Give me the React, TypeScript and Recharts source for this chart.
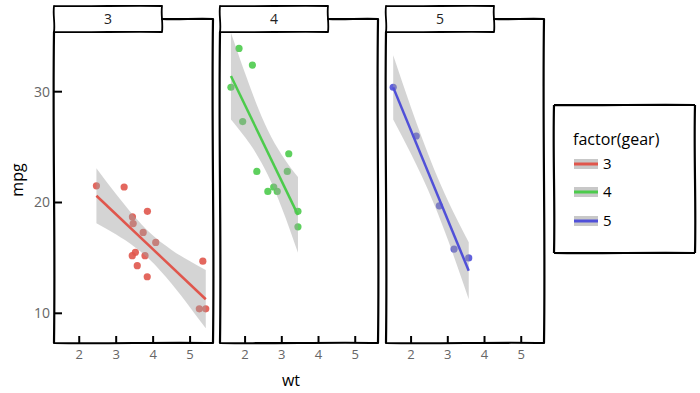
import React from 'react';
import { ComposedChart, XAxis, YAxis, Scatter, Line, Area } from 'recharts';

// ---- data ----
const gearLevels = ['3', '4', '5'];
const gearColors = ['#E0564C', '#4CCB4C', '#5050D8'];

const gear3Wt = [2.465, 3.215, 3.44, 3.46, 3.57, 3.73, 3.78, 3.84, 3.845, 4.07, 5.25, 5.345, 5.424, 3.52, 3.435];
const gear3Mpg = [21.5, 21.4, 18.7, 18.1, 14.3, 17.3, 15.2, 13.3, 19.2, 16.4, 10.4, 14.7, 10.4, 15.5, 15.2];
const gear4Wt = [1.615, 1.835, 1.935, 2.2, 2.32, 2.62, 2.78, 2.875, 3.15, 3.19, 3.44, 3.44];
const gear4Mpg = [30.4, 33.9, 27.3, 32.4, 22.8, 21.0, 21.4, 21.0, 22.8, 24.4, 19.2, 17.8];
const gear5Wt = [1.513, 2.14, 2.77, 3.17, 3.57];
const gear5Mpg = [30.4, 26.0, 19.7, 15.8, 15.0];

const gear3FitWt = [2.465, 5.424];
const gear3FitMpg = [20.61, 11.27];
const gear4FitWt = [1.615, 3.44];
const gear4FitMpg = [31.41, 18.88];
const gear5FitWt = [1.513, 3.57];
const gear5FitMpg = [30.39, 13.84];

const gear3BandWt = [2.465, 3.0, 3.5, 3.89, 4.5, 5.0, 5.424];
const gear3BandLo = [18.12, 17.11, 15.99, 14.89, 12.66, 10.53, 8.64];
const gear3BandHi = [23.1, 20.75, 18.71, 17.33, 15.72, 14.69, 13.9];
const gear4BandWt = [1.615, 2.0, 2.3, 2.617, 3.0, 3.44];
const gear4BandLo = [27.5, 25.88, 24.43, 22.51, 19.51, 15.47];
const gear4BandHi = [35.32, 31.66, 28.99, 26.55, 24.29, 22.29];
const gear5BandWt = [1.513, 2.0, 2.3, 2.633, 3.0, 3.3, 3.57];
const gear5BandLo = [27.5, 24.38, 22.32, 19.8, 16.65, 13.87, 11.27];
const gear5BandHi = [33.28, 28.56, 25.79, 22.96, 20.19, 18.15, 16.41];

const xTicks = [2, 3, 4, 5];
const yTicks = [10, 20, 30];
const X_DOMAIN: [number, number] = [1.317, 5.62];
const Y_DOMAIN: [number, number] = [7.32, 36.65];

const zip = (xs: number[], ys: number[]) => xs.map((x, i) => ({ x, y: ys[i] }));
const bandOf = (xs: number[], lo: number[], hi: number[]) => xs.map((x, i) => ({ x, band: [lo[i], hi[i]] }));

const panels = [
  { pts: zip(gear3Wt, gear3Mpg), fit: zip(gear3FitWt, gear3FitMpg), band: bandOf(gear3BandWt, gear3BandLo, gear3BandHi) },
  { pts: zip(gear4Wt, gear4Mpg), fit: zip(gear4FitWt, gear4FitMpg), band: bandOf(gear4BandWt, gear4BandLo, gear4BandHi) },
  { pts: zip(gear5Wt, gear5Mpg), fit: zip(gear5FitWt, gear5FitMpg), band: bandOf(gear5BandWt, gear5BandLo, gear5BandHi) },
];

// ---- layout ----
const FONT = '"Open Sans", "DejaVu Sans", sans-serif';
const PLOT_TOP = 18;
const PLOT_BOTTOM = 343;
const panelBoxes = [
  { left: 54, right: 213, chartLeft: 0 },
  { left: 220, right: 378, chartLeft: 220 },
  { left: 386, right: 544, chartLeft: 386 },
];

const XTick = (props: any) => {
  const { x, payload } = props;
  return (
    <g>
      <line x1={x} x2={x} y1={PLOT_BOTTOM} y2={PLOT_BOTTOM - 7} stroke="#000" strokeWidth={2} />
      <text x={x} y={PLOT_BOTTOM + 16} textAnchor="middle" fontSize={13} fill="#666" fontFamily={FONT}>
        {payload.value}
      </text>
    </g>
  );
};

const YTick = (props: any) => {
  const { y, payload } = props;
  return (
    <g>
      <line x1={54} x2={62} y1={y} y2={y} stroke="#000" strokeWidth={2} />
      <text x={50} y={y + 5} textAnchor="end" fontSize={14} fill="#666" fontFamily={FONT}>
        {payload.value}
      </text>
    </g>
  );
};

// wobbly line helper (purely decorative)
const wob = (x1: number, y1: number, x2: number, y2: number, a = 1.2) => {
  const dx = x2 - x1, dy = y2 - y1;
  const len = Math.hypot(dx, dy) || 1;
  const nx = -dy / len, ny = dx / len;
  const c1x = x1 + dx / 3 + nx * a, c1y = y1 + dy / 3 + ny * a;
  const c2x = x1 + (2 * dx) / 3 - nx * a, c2y = y1 + (2 * dy) / 3 - ny * a;
  return `M${x1},${y1} C${c1x},${c1y} ${c2x},${c2y} ${x2},${y2}`;
};
const box = (x1: number, y1: number, x2: number, y2: number) =>
  [wob(x1, y1, x2, y1, 0.8), wob(x2, y1, x2, y2, 1.2), wob(x2, y2, x1, y2, 0.8), wob(x1, y2, x1, y1, 1.2)].join(' ');

function Panel({ idx }: { idx: number }) {
  const p = panels[idx];
  const b = panelBoxes[idx];
  const color = gearColors[idx];
  const showY = idx === 0;
  const width = b.right - b.chartLeft;
  const Dot = (s: any) => <circle cx={s.cx} cy={s.cy} r={3.6} fill={color} fillOpacity={0.9} />;
  const extra: any = {};
  return (
    <div style={{ position: 'absolute', left: b.chartLeft, top: 0 }}>
      <ComposedChart width={width} height={393} margin={{ top: PLOT_TOP, right: 0, bottom: 0, left: 0 }}>
        <XAxis
          type="number"
          dataKey="x"
          domain={X_DOMAIN}
          ticks={xTicks}
          interval={0}
          height={393 - PLOT_BOTTOM}
          axisLine={false}
          tickLine={false}
          tickSize={0}
          tickMargin={0}
          tick={<XTick />}
          allowDataOverflow
        />
        <YAxis
          type="number"
          dataKey="y"
          domain={Y_DOMAIN}
          ticks={yTicks}
          interval={0}
          width={showY ? 54 : 0}
          hide={!showY}
          axisLine={false}
          tickLine={false}
          tickSize={0}
          tickMargin={0}
          tick={<YTick />}
          allowDataOverflow
        />
        <Scatter data={p.pts} dataKey="y" fill={color} shape={Dot} isAnimationActive={false} zIndex={100} {...extra} />
        <Area
          data={p.band}
          dataKey="band"
          type="monotone"
          stroke="none"
          fill="#a0a0a0"
          fillOpacity={0.45}
          isAnimationActive={false}
          dot={false}
          activeDot={false}
          zIndex={700}
        />
        <Line data={p.fit} dataKey="y" stroke={color} strokeWidth={2.5} dot={false} activeDot={false} isAnimationActive={false} zIndex={800} />
      </ComposedChart>
    </div>
  );
}

export default function App() {
  const legendY = [164, 192, 221];
  return (
    <div style={{ position: 'absolute', left: 0, top: 0, width: 700, height: 393, background: '#fff', fontFamily: FONT }}>
      {panels.map((_, i) => (
        <Panel key={i} idx={i} />
      ))}
      <svg width={700} height={393} style={{ position: 'absolute', left: 0, top: 0, pointerEvents: 'none' }}>
        {panelBoxes.map((b, i) => {
          const sR = b.left + 108;
          return (
            <g key={i} fill="none" stroke="#000" strokeWidth={2.2} strokeLinejoin="round" strokeLinecap="round">
              <path d={[wob(b.left, 32, b.left, PLOT_BOTTOM, 1.5), wob(b.left, PLOT_BOTTOM, b.right, PLOT_BOTTOM, 0.9), wob(b.right, PLOT_BOTTOM, b.right, 19, 1.6), wob(b.right, 19, sR, 19, 0.8)].join(' ')} />
              <path d={box(b.left, 6, sR, 32)} fill="#fff" strokeWidth={1.8} />
              <text x={b.left + 54} y={24} textAnchor="middle" fontSize={14} fill="#222" stroke="none" fontFamily={FONT}>
                {gearLevels[i]}
              </text>
            </g>
          );
        })}
        <text x={0} y={0} transform="translate(23,180) rotate(-90)" textAnchor="middle" fontSize={16} fill="#000" fontFamily={FONT}>
          mpg
        </text>
        <text x={291} y={386} textAnchor="middle" fontSize={16} fill="#000" fontFamily={FONT}>
          wt
        </text>
        <path d={box(554, 105, 695, 253)} fill="none" stroke="#000" strokeWidth={2.2} strokeLinejoin="round" />
        <text x={573} y={145} fontSize={16} fill="#000" fontFamily={FONT}>
          factor(gear)
        </text>
        {gearLevels.map((g, i) => (
          <g key={g}>
            <rect x={574} y={legendY[i] - 5} width={24} height={10} fill="#c8c8c8" />
            <line x1={574} x2={598} y1={legendY[i]} y2={legendY[i]} stroke={gearColors[i]} strokeWidth={3} />
            <text x={603} y={legendY[i] + 5} fontSize={15} fill="#000" fontFamily={FONT}>
              {g}
            </text>
          </g>
        ))}
      </svg>
    </div>
  );
}
